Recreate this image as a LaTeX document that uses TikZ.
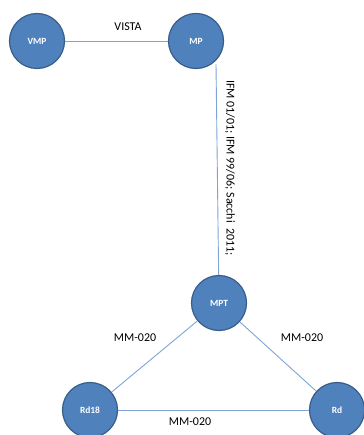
\documentclass[tikz,border=0pt]{standalone}
\usepackage{fontspec}
\setmainfont{Carlito}
\begin{document}
\begin{tikzpicture}[x=1bp,y=-1bp,
  ent/.style={circle,fill=nodefill,draw=nodeborder,line width=1.2bp,minimum size=55bp,inner sep=0pt,text=white,font=\fontsize{9.5}{11}\selectfont\bfseries},
  link/.style={draw=linkcol,line width=0.9bp},
  lab/.style={font=\fontsize{12}{14}\selectfont,text=black}]
\definecolor{nodefill}{HTML}{4F81BD}
\definecolor{nodeborder}{HTML}{385D8A}
\definecolor{linkcol}{HTML}{7FA4D4}
\useasboundingbox (0,0) rectangle (363,435);
\node[ent] (VMP) at (37,41) {VMP};
\node[ent] (MP) at (196,41) {MP};
\node[ent] (MPT) at (219,303) {MPT};
\node[ent] (Rd18) at (90,410) {Rd18};
\node[ent] (Rd) at (337,410) {Rd};
\coordinate (mpa) at (216,64);
\draw[link] (VMP) -- (MP);
\draw[link] (mpa) -- (MPT);
\draw[link] (MPT) -- (Rd18);
\draw[link] (MPT) -- (Rd);
\draw[link] (Rd18) -- (Rd);
\node[lab] (lv) at (128,27) {VISTA};
\node[lab,rotate=-90] (li) at (230,168) {IFM 01/01; IFM 99/06; Sacchi\ \ 2011;};
\node[lab] (l1) at (135,338) {MM-020};
\node[lab] (l2) at (302,338) {MM-020};
\node[lab] (l3) at (190,422) {MM-020};
\end{tikzpicture}
\end{document}
